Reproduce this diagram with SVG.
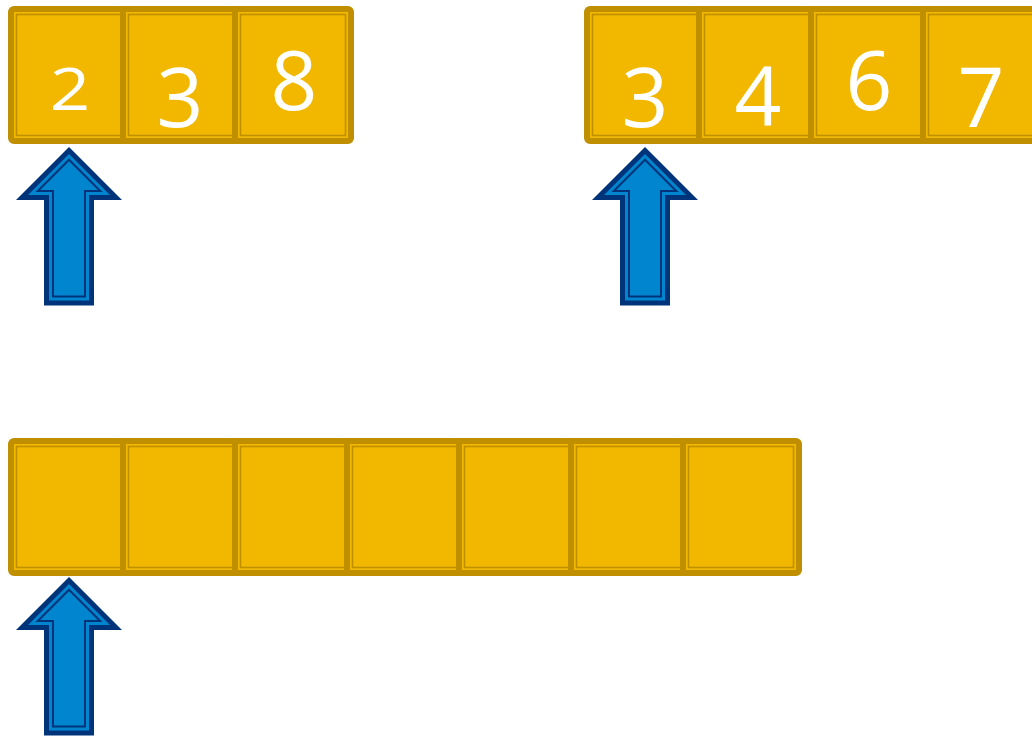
<svg xmlns="http://www.w3.org/2000/svg" xmlns:xlink="http://www.w3.org/1999/xlink" width="1032" height="736" viewBox="0 0 1032 736">
<style>
.cell-o{fill:#F2B800;stroke:#BF8F00;stroke-width:6;}
.cell-i{fill:none;stroke:#BF8F00;stroke-width:1.6;}
.arr-o{fill:#0085CE;stroke:#00347A;stroke-width:5;stroke-linejoin:miter;stroke-miterlimit:10;}
.arr-i{fill:none;stroke:#00347A;stroke-width:2;stroke-linejoin:miter;stroke-miterlimit:10;}
.num{font-family:"Open Sans","Noto Sans",sans-serif;font-weight:400;fill:#FFFFFF;text-anchor:middle;}
.xh{font-size:59px;}
.tall{font-size:82px;}
</style>
<defs>
<g id="cellshape">
<rect class="cell-o" x="3" y="3" width="116" height="132" rx="3"/>
<rect class="cell-i" x="8.5" y="8.5" width="105" height="121"/>
</g>
<g id="arrowshape">
<polygon class="arr-o" points="0,3.54 46.96,50.5 22.5,50.5 22.5,156 -22.5,156 -22.5,50.5 -46.96,50.5"/>
<polygon class="arr-i" points="0,12.73 31.27,44 16,44 16,149.5 -16,149.5 -16,44 -31.27,44"/>
</g>
</defs>
<rect width="1032" height="736" fill="#FFFFFF"/>

<g id="array-a">
<g id="a0"><use xlink:href="#cellshape" x="8" y="6"/><text class="num xh" x="0" y="110" transform="translate(70,0) scale(1.2,1)">2</text></g>
<g id="a1"><use xlink:href="#cellshape" x="120" y="6"/><text class="num tall" x="180" y="127">3</text></g>
<g id="a2"><use xlink:href="#cellshape" x="232" y="6"/><text class="num tall" x="294" y="110">8</text></g>
</g>

<g id="array-b">
<g id="b0"><use xlink:href="#cellshape" x="584" y="6"/><text class="num tall" x="645" y="127">3</text></g>
<g id="b1"><use xlink:href="#cellshape" x="696" y="6"/><text class="num tall" x="758" y="126">4</text></g>
<g id="b2"><use xlink:href="#cellshape" x="808" y="6"/><text class="num tall" x="869" y="110">6</text></g>
<g id="b3"><use xlink:href="#cellshape" x="920" y="6"/><text class="num tall" x="981" y="127">7</text></g>
</g>

<g id="array-c">
<g id="c0"><use xlink:href="#cellshape" x="8" y="438"/></g>
<g id="c1"><use xlink:href="#cellshape" x="120" y="438"/></g>
<g id="c2"><use xlink:href="#cellshape" x="232" y="438"/></g>
<g id="c3"><use xlink:href="#cellshape" x="344" y="438"/></g>
<g id="c4"><use xlink:href="#cellshape" x="456" y="438"/></g>
<g id="c5"><use xlink:href="#cellshape" x="568" y="438"/></g>
<g id="c6"><use xlink:href="#cellshape" x="680" y="438"/></g>
</g>

<g id="pointer-a"><use xlink:href="#arrowshape" x="69" y="147"/></g>
<g id="pointer-b"><use xlink:href="#arrowshape" x="645" y="147"/></g>
<g id="pointer-c"><use xlink:href="#arrowshape" x="69" y="577"/></g>
</svg>
